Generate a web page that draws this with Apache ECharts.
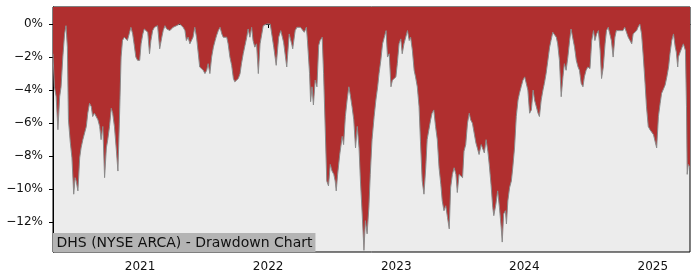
<!DOCTYPE html>
<html>
<head>
<meta charset="utf-8">
<script src="https://cdn.jsdelivr.net/npm/echarts@6/dist/echarts.min.js"></script>
<style>html,body{margin:0;padding:0;background:#fff;}#chart{width:700px;height:280px;}</style>
</head>
<body>
<div id="chart"></div>
<script>
var titleText = 'DHS (NYSE ARCA) - Drawdown Chart';
var yTicks = [-12, -10, -8, -6, -4, -2, 0];
var xTickYears = [2021, 2022, 2023, 2024, 2025];
var xStart = '2020-04-28';
var xEnd = '2025-04-17';

var dates = [
'2020-04-28','2020-05-02','2020-05-07','2020-05-12','2020-05-17','2020-05-21','2020-05-26','2020-05-31','2020-06-04','2020-06-08',
'2020-06-11','2020-06-16','2020-06-21','2020-06-26','2020-06-30','2020-07-03','2020-07-08','2020-07-13','2020-07-17','2020-07-22',
'2020-07-27','2020-08-01','2020-08-05','2020-08-10','2020-08-15','2020-08-19','2020-08-24','2020-08-29','2020-09-03','2020-09-08',
'2020-09-12','2020-09-17','2020-09-22','2020-09-27','2020-10-01','2020-10-06','2020-10-11','2020-10-15','2020-10-20','2020-10-25',
'2020-10-30','2020-11-03','2020-11-08','2020-11-12','2020-11-17','2020-11-22','2020-11-26','2020-12-01','2020-12-06','2020-12-11',
'2020-12-15','2020-12-20','2020-12-25','2020-12-31',
'2021-01-04','2021-01-09','2021-01-13','2021-01-18','2021-01-23','2021-01-28','2021-02-01','2021-02-06','2021-02-11','2021-02-15',
'2021-02-20','2021-02-26','2021-03-04','2021-03-08','2021-03-13','2021-03-18','2021-03-22','2021-03-27','2021-04-01','2021-04-05',
'2021-04-10','2021-04-15','2021-04-20','2021-04-24','2021-04-29','2021-05-04','2021-05-09','2021-05-13','2021-05-18','2021-05-23',
'2021-05-28','2021-06-01','2021-06-06','2021-06-11','2021-06-16','2021-06-20','2021-06-25','2021-06-30','2021-07-05','2021-07-10',
'2021-07-14','2021-07-19','2021-07-24','2021-07-29','2021-08-03','2021-08-07','2021-08-12','2021-08-17','2021-08-22','2021-08-26',
'2021-08-31','2021-09-05','2021-09-09','2021-09-14','2021-09-19','2021-09-24','2021-09-28','2021-10-03','2021-10-08','2021-10-13',
'2021-10-17','2021-10-22','2021-10-27','2021-11-01','2021-11-05','2021-11-10','2021-11-15','2021-11-19','2021-11-24','2021-11-29',
'2021-12-04','2021-12-09','2021-12-14','2021-12-18','2021-12-23','2021-12-28',
'2022-01-07','2022-01-12','2022-01-17','2022-01-24','2022-01-31','2022-02-06','2022-02-14','2022-02-23','2022-03-02','2022-03-09',
'2022-03-12','2022-03-19','2022-03-24','2022-04-03','2022-04-07','2022-04-14','2022-04-20','2022-04-23','2022-04-29','2022-05-02',
'2022-05-06','2022-05-10','2022-05-15','2022-05-20','2022-05-25','2022-05-29','2022-06-04','2022-06-08','2022-06-13','2022-06-17',
'2022-06-22','2022-06-27','2022-07-02','2022-07-07','2022-07-11','2022-07-14','2022-07-18','2022-07-24','2022-07-31','2022-08-04',
'2022-08-09','2022-08-14','2022-08-19','2022-08-23','2022-08-28','2022-09-02','2022-09-07','2022-09-12','2022-09-17','2022-09-21',
'2022-09-26','2022-10-01','2022-10-05','2022-10-10','2022-10-15','2022-10-19','2022-10-24','2022-10-30','2022-11-04','2022-11-09',
'2022-11-13','2022-11-18','2022-11-23','2022-11-28','2022-12-03','2022-12-07','2022-12-12','2022-12-17','2022-12-21','2022-12-26',
'2022-12-31',
'2023-01-04','2023-01-09','2023-01-14','2023-01-18','2023-01-23','2023-01-28','2023-02-02','2023-02-07','2023-02-11','2023-02-16',
'2023-02-21','2023-02-25','2023-03-02','2023-03-07','2023-03-11','2023-03-16','2023-03-21','2023-03-26','2023-03-30','2023-04-04',
'2023-04-09','2023-04-13','2023-04-18','2023-04-23','2023-04-28','2023-05-03','2023-05-08','2023-05-12','2023-05-17','2023-05-22',
'2023-05-27','2023-06-01','2023-06-05','2023-06-10','2023-06-15','2023-06-20','2023-06-24','2023-06-29','2023-07-04','2023-07-09',
'2023-07-13','2023-07-18','2023-07-23','2023-07-28','2023-08-01','2023-08-06','2023-08-11','2023-08-16','2023-08-20','2023-08-25',
'2023-08-31','2023-09-05','2023-09-09','2023-09-14','2023-09-19','2023-09-23','2023-09-28','2023-10-03','2023-10-06','2023-10-12',
'2023-10-17','2023-10-22','2023-10-27','2023-10-30','2023-11-03','2023-11-08','2023-11-11','2023-11-15','2023-11-20','2023-11-25',
'2023-11-29','2023-12-04','2023-12-09','2023-12-14','2023-12-18','2023-12-23','2023-12-28',
'2024-01-02','2024-01-07','2024-01-11','2024-01-16','2024-01-21','2024-01-26','2024-01-30','2024-02-04','2024-02-09','2024-02-13',
'2024-02-18','2024-02-23','2024-02-27','2024-03-03','2024-03-08','2024-03-13','2024-03-17','2024-03-22','2024-03-27','2024-04-01',
'2024-04-05','2024-04-10','2024-04-15','2024-04-20','2024-04-24','2024-04-29','2024-05-04','2024-05-09','2024-05-13','2024-05-18',
'2024-05-23','2024-05-28','2024-06-02','2024-06-06','2024-06-11','2024-06-16','2024-06-20','2024-06-25','2024-06-30','2024-07-06',
'2024-07-11','2024-07-16','2024-07-20','2024-07-25','2024-07-30','2024-08-04','2024-08-08','2024-08-13','2024-08-18','2024-08-22',
'2024-08-27','2024-09-01','2024-09-05','2024-09-10','2024-09-15','2024-09-19','2024-09-24','2024-09-29','2024-10-04','2024-10-08',
'2024-10-13','2024-10-18','2024-10-23','2024-10-28','2024-11-02','2024-11-06','2024-11-11','2024-11-16','2024-11-20','2024-11-25',
'2024-11-30','2024-12-05','2024-12-10','2024-12-14','2024-12-19','2024-12-24','2024-12-29',
'2025-01-03','2025-01-08','2025-01-12','2025-01-17','2025-01-22','2025-01-26','2025-02-01','2025-02-05','2025-02-10','2025-02-15',
'2025-02-19','2025-02-24','2025-03-01','2025-03-06','2025-03-09','2025-03-13','2025-03-15','2025-03-20','2025-03-25','2025-03-29',
'2025-04-01','2025-04-04','2025-04-07','2025-04-09','2025-04-12','2025-04-17'
];

var drawdown = [
-1.8,-3.8,-4.4,-6.4,-4.4,-3.8,-2.0,-0.6,-0.1,-1.4,
-5.8,-7.1,-8.1,-10.3,-9.3,-9.5,-10.1,-8.1,-7.5,-7.0,
-6.6,-6.2,-5.4,-4.8,-5.0,-5.6,-5.4,-5.3,-5.8,-6.2,
-7.0,-6.2,-9.3,-7.5,-7.0,-6.2,-5.1,-5.4,-6.2,-7.5,
-8.9,-6.0,-2.0,-1.0,-0.8,-0.9,-1.0,-0.6,-0.2,-0.6,
-1.2,-2.0,-2.2,-2.2,
-1.2,-0.6,-0.3,-0.3,-0.5,-1.8,-1.0,-0.4,-0.2,-0.1,
-0.1,-1.5,-0.8,-0.4,-0.1,-0.3,-0.2,-0.4,-0.4,-0.2,
-0.2,-0.1,-0.1,0,0,-0.2,-0.4,-1.0,-0.8,-1.2,
-1.3,-0.8,-0.2,-0.8,-1.8,-2.6,-2.7,-2.8,-3.0,-2.8,
-2.4,-3.0,-2.0,-1.4,-1.0,-0.7,-0.4,-0.2,-0.6,-0.8,
-0.7,-0.8,-1.2,-2.0,-2.5,-3.3,-3.5,-3.6,-3.3,-3.0,
-2.4,-1.8,-1.3,-0.8,-0.3,-0.8,-0.2,-1.0,-1.4,-1.2,
-3.0,-1.2,-0.6,-0.1,0,0,
0,-0.1,-1.4,-2.5,-0.8,-0.4,-1.1,-2.6,-0.6,-1.2,
-1.5,-0.4,-0.2,-0.2,-0.3,-0.5,-0.2,-1.0,-3.0,-4.7,
-3.8,-4.9,-3.4,-3.8,-1.3,-1.0,-0.8,-3.0,-6.6,-9.5,
-9.8,-8.5,-8.9,-9.1,-9.5,-10.1,-9.1,-7.9,-6.8,-7.3,
-5.6,-4.6,-3.8,-4.3,-5.0,-5.8,-7.5,-6.2,-7.5,-9.5,
-11.5,-13.7,-11.9,-12.7,-11.1,-9.1,-7.0,-5.6,-4.6,-3.8,
-3.0,-2.2,-1.2,-0.8,-0.4,-2.0,-1.8,-3.8,-3.4,-3.3,
-3.2,
-2.4,-1.2,-0.9,-1.8,-1.2,-0.8,-0.4,-1.0,-0.8,-1.6,
-2.8,-3.2,-3.8,-5.0,-7.1,-9.5,-10.3,-8.7,-7.0,-6.4,
-5.8,-5.4,-5.2,-6.2,-7.0,-8.7,-9.7,-10.7,-11.3,-11.0,
-11.7,-12.4,-9.9,-9.1,-8.7,-9.1,-10.2,-9.1,-9.1,-9.3,
-7.7,-7.3,-6.0,-5.4,-5.8,-6.0,-6.0,-7.2,-7.5,-7.9,
-7.3,-7.3,-7.8,-7.0,-7.7,-8.5,-9.7,-11.1,-11.6,-10.9,
-10.1,-11.1,-12.3,-13.2,-11.5,-11.3,-12.1,-10.7,-9.9,-9.5,
-8.7,-7.5,-5.6,-4.6,-4.2,-3.8,-3.4,
-3.2,-3.1,-4.0,-5.4,-5.2,-4.0,-4.6,-5.0,-5.4,-5.6,
-4.6,-4.0,-3.6,-3.0,-2.2,-1.4,-1.0,-0.5,-0.5,-0.8,
-1.2,-2.2,-4.4,-3.2,-2.4,-2.8,-2.0,-1.0,-0.3,-0.2,
-1.4,-2.2,-2.6,-2.8,-3.6,-3.8,-3.2,-2.8,-2.6,-2.7,
-1.0,-0.4,-1.0,-0.6,-0.4,-1.6,-3.3,-2.6,-1.2,-0.4,
-0.2,-0.3,-1.0,-2.0,-0.8,-0.4,-0.5,-0.4,-0.3,-0.4,
-0.2,-0.5,-0.8,-1.0,-1.2,-0.6,-0.5,-0.4,-0.2,0,
-0.6,-2.0,-3.6,-5.0,-6.2,-6.4,-6.5,
-6.7,-6.6,-7.5,-5.6,-4.8,-4.2,-3.9,-3.7,-3.2,-2.6,
-1.8,-1.0,-0.6,-1.4,-1.7,-2.6,-2.0,-1.7,-1.6,-1.2,
-1.1,-1.6,-5.0,-9.1,-8.5,-8.7
];

function toTime(s) {
  var p = s.split('-');
  return new Date(+p[0], +p[1] - 1, +p[2]).getTime();
}

var seriesData = dates.map(function (d, i) { return [toTime(d), drawdown[i]]; });
var xTickValues = xTickYears.map(function (y) { return new Date(y, 0, 1).getTime(); });

function pct(v) {
  return (v < 0 ? '\u2212' : '') + Math.abs(v) + '%';
}

var chart = echarts.init(document.getElementById('chart'), null, { renderer: 'canvas' });
chart.setOption({
  animation: false,
  backgroundColor: '#ffffff',
  title: {
    text: titleText,
    left: 53,
    bottom: 28,
    padding: [2, 3, 1, 3.5],
    backgroundColor: '#b4b4b4',
    textStyle: { fontFamily: 'DejaVu Sans', fontSize: 14, fontWeight: 'normal', color: '#111', lineHeight: 16 },
    z: 10
  },
  grid: {
    left: 53, right: 10, top: 7, bottom: 28,
    show: true, backgroundColor: '#ececec', borderColor: '#000', borderWidth: 1
  },
  xAxis: {
    type: 'value',
    min: toTime(xStart),
    max: toTime(xEnd),
    axisLine: { show: true, lineStyle: { color: '#000', width: 1 } },
    axisTick: { show: true, length: 4, lineStyle: { color: '#000' }, customValues: xTickValues },
    axisLabel: {
      customValues: xTickValues,
      margin: 9,
      fontFamily: 'DejaVu Sans', fontSize: 12, color: '#111',
      formatter: function (v) { return String(new Date(v).getFullYear()); }
    },
    splitLine: { show: false }
  },
  yAxis: {
    type: 'value',
    min: -13.8,
    max: 1.03,
    axisLine: { show: true, lineStyle: { color: '#000', width: 1 } },
    axisTick: { show: true, length: 4, lineStyle: { color: '#000' }, customValues: yTicks },
    axisLabel: {
      customValues: yTicks,
      margin: 10,
      fontFamily: 'DejaVu Sans', fontSize: 12, color: '#111',
      formatter: pct
    },
    splitLine: { show: false }
  },
  series: [{
    type: 'line',
    data: seriesData,
    symbol: 'none',
    smooth: false,
    sampling: 'none',
    lineStyle: { color: '#8a8a8a', width: 1 },
    areaStyle: { origin: 'end', color: '#b02f2f', opacity: 1 },
    z: 2
  }]
});
</script>
</body>
</html>
